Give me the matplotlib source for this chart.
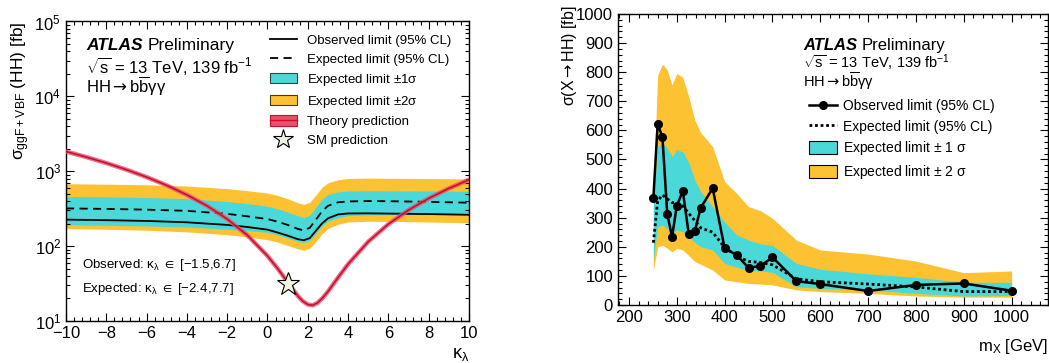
import matplotlib
matplotlib.use("Agg")
import matplotlib.pyplot as plt
import matplotlib.ticker as ticker
from matplotlib.lines import Line2D
from matplotlib.patches import Patch

plt.rcParams["font.family"] = ["Liberation Sans", "DejaVu Sans"]
plt.rcParams["mathtext.fontset"] = "custom"
plt.rcParams["mathtext.rm"] = "Liberation Sans"
plt.rcParams["mathtext.it"] = "Liberation Sans"
plt.rcParams["mathtext.bf"] = "Liberation Sans:bold"
plt.rcParams["mathtext.sf"] = "DejaVu Sans"
plt.rcParams["mathtext.default"] = "regular"

CYAN = "#4ad8d8"
YELLOW = "#fdc232"
RED_CORE = "#c8102e"
RED_BAND = "#e8506c"

# --- left panel: kappa_lambda scan (fb) ---
kl = [-10, -8, -6, -4, -2, -1, 0, 0.5, 1, 1.5, 1.8, 2.1, 2.4, 2.7, 3.0, 3.5, 4, 5, 6, 8, 10]
kl_obs = [226, 222, 217, 208, 192, 180, 166, 152, 138, 124, 120, 128, 160, 200, 235, 265, 273, 274, 272, 268, 262]
kl_exp = [319, 314, 307, 296, 270, 250, 230, 212, 192, 170, 162, 176, 225, 290, 345, 385, 395, 400, 398, 390, 380]
kl_1up = [461, 455, 446, 430, 395, 370, 340, 315, 285, 255, 240, 258, 330, 420, 490, 530, 545, 550, 548, 545, 540]
kl_1dn = [193, 190, 186, 180, 168, 161, 153, 142, 128, 116, 112, 120, 148, 185, 215, 240, 255, 262, 263, 264, 265]
kl_2up = [681, 672, 660, 635, 585, 550, 512, 475, 430, 380, 360, 385, 480, 610, 700, 770, 800, 810, 805, 800, 790]
kl_2dn = [171, 168, 163, 155, 142, 133, 122, 113, 102, 92, 88, 94, 115, 145, 172, 196, 210, 215, 214, 210, 205]

th_kl = [-10, -9, -8, -7, -6, -5, -4, -3, -2, -1, 0, 0.5, 1, 1.5, 1.75, 2, 2.25, 2.5, 2.75, 3, 3.5, 4, 5, 6, 7, 8, 9, 10]
th_xsec = [1836, 1549, 1287, 1049, 836, 648, 484, 345, 230, 140, 74, 50.4, 33, 21.7, 18.4, 16.6, 16.2, 17.6, 20.5,
           24.7, 38.0, 57.4, 114.8, 196.6, 303, 434, 590, 770]
sm_kl = [1]
sm_xsec = [31.0]

# --- right panel: resonant search (fb) ---
mx = [251, 260, 270, 280, 290, 300, 312.5, 325, 337.5, 350, 375, 400, 425, 450, 475, 500, 550, 600, 700, 800, 900, 1000]
mx_obs = [366, 623, 576, 314, 234, 340, 392, 244, 253, 334, 401, 195, 172, 128, 134, 164, 82, 72, 48, 69, 74, 49]
mx_exp = [214, 358, 378, 365, 352, 350, 340, 315, 290, 265, 250, 198, 168, 150, 146, 138, 90, 80, 72, 62, 46, 46]
mx_1up = [355, 544, 556, 540, 510, 533, 527, 490, 430, 390, 338, 285, 241, 223, 210, 205, 143, 123, 107, 95, 78, 78]
mx_1dn = [155, 269, 275, 263, 246, 258, 252, 235, 215, 200, 189, 143, 130, 120, 117, 112, 63, 57, 52, 40, 31, 33]
mx_2up = [410, 790, 828, 808, 756, 796, 782, 716, 636, 592, 544, 424, 384, 338, 324, 298, 223, 189, 175, 151, 111, 117]
mx_2dn = [120, 200, 205, 195, 183, 195, 189, 170, 150, 140, 120, 86, 80, 74, 72, 69, 52, 46, 40, 31, 27, 27]

fig = plt.figure(figsize=(10.49, 3.63), dpi=100)
ax1 = fig.add_axes([0.0629, 0.1157, 0.3842, 0.8251])
ax2 = fig.add_axes([0.5891, 0.1598, 0.4099, 0.8017])

HHBBYY = r"HH$\mathsf{\rightarrow}$b$\overline{b}\gamma\gamma$"


def root_style(ax):
    ax.tick_params(which="both", direction="in", top=True, right=True, labelsize=12, width=0.8)
    ax.tick_params(which="major", length=6)
    ax.tick_params(which="minor", length=3)
    for s in ax.spines.values():
        s.set_linewidth(1.0)


def atlas_label(ax, x, y, size):
    t = ax.text(x, y, "ATLAS", transform=ax.transAxes, fontsize=size, fontweight="bold",
                style="italic", va="baseline")
    ax.annotate("Preliminary", xy=(1, 0), xycoords=t, xytext=(3.5, 0), textcoords="offset points",
                fontsize=size, va="bottom")


# ---------------- left ----------------
ax1.fill_between(kl, kl_2dn, kl_2up, color=YELLOW, lw=0)
ax1.fill_between(kl, kl_1dn, kl_1up, color=CYAN, lw=0)
ax1.plot(kl, kl_exp, color="black", ls=(0, (4.5, 3)), lw=1.3)
ax1.plot(kl, kl_obs, color="black", lw=1.3)
ax1.plot(th_kl, th_xsec, color=RED_BAND, lw=3.2, alpha=0.8, zorder=4)
ax1.plot(th_kl, th_xsec, color=RED_CORE, lw=1.2, zorder=5)
ax1.plot(sm_kl, sm_xsec, ls="none", marker="*", ms=17, mfc="#eef3e3", mec="black", mew=0.8, zorder=6)

ax1.set_yscale("log")
ax1.set_xlim(-10, 10)
ax1.set_ylim(10, 1e5)
ax1.xaxis.set_major_locator(ticker.MultipleLocator(2))
ax1.xaxis.set_minor_locator(ticker.MultipleLocator(0.4))
ax1.yaxis.set_minor_locator(ticker.LogLocator(subs=range(2, 10), numticks=20))
ax1.yaxis.set_minor_formatter(ticker.NullFormatter())
ax1.xaxis.set_major_formatter(ticker.FuncFormatter(lambda v, p: f"{v:.0f}".replace("-", "\u2212")))
root_style(ax1)

ax1.set_ylabel(r"$\sigma_{ggF+VBF}$ (HH) [fb]", fontsize=12.5, loc="top")
ax1.yaxis.set_label_coords(-0.085, 1.0)
ax1.set_xlabel(r"$\kappa_{\lambda}$", fontsize=13, loc="right")
ax1.xaxis.set_label_coords(1.0, -0.085)

atlas_label(ax1, 0.05, 0.905, 12.5)
ax1.text(0.05, 0.828, r"$\sqrt{s}$ = 13 TeV, 139 fb$^{-1}$", transform=ax1.transAxes, fontsize=12, va="baseline")
ax1.text(0.05, 0.762, HHBBYY, transform=ax1.transAxes, fontsize=12, va="baseline")
ax1.text(0.039, 0.177, r"Observed: $\kappa_{\lambda}$ $\in$ [$-$1.5,6.7]", transform=ax1.transAxes, fontsize=9.5, va="baseline")
ax1.text(0.039, 0.097, r"Expected: $\kappa_{\lambda}$ $\in$ [$-$2.4,7.7]", transform=ax1.transAxes, fontsize=9.5, va="baseline")

h_left = [
    Line2D([], [], color="black", lw=1.3),
    Line2D([], [], color="black", ls=(0, (4.5, 3)), lw=1.3),
    Patch(facecolor=CYAN, edgecolor="#2a4a4a", lw=0.8),
    Patch(facecolor=YELLOW, edgecolor="#4a3a10", lw=0.8),
    (Patch(facecolor=RED_BAND, edgecolor=RED_CORE, lw=0.8), Line2D([], [], color=RED_CORE, lw=1.0)),
    Line2D([], [], ls="none", marker="*", ms=15, mfc="#eef3e3", mec="black", mew=0.8),
]
l_left = ["Observed limit (95% CL)", "Expected limit (95% CL)", r"Expected limit $\pm1\sigma$",
          r"Expected limit $\pm2\sigma$", "Theory prediction", "SM prediction"]
ax1.legend(h_left, l_left, loc="upper left", bbox_to_anchor=(0.505, 0.958), frameon=False, fontsize=9.5,
           borderpad=0, borderaxespad=0, handlelength=2.1, handleheight=0.85, handletextpad=0.75,
           labelspacing=0.45)

# ---------------- right ----------------
ax2.fill_between(mx, mx_2dn, mx_2up, color=YELLOW, lw=0)
ax2.fill_between(mx, mx_1dn, mx_1up, color=CYAN, lw=0)
ax2.plot(mx, mx_exp, color="black", ls=(0, (1, 1)), lw=2.0)
ax2.plot(mx, mx_obs, color="black", lw=1.8, marker="o", ms=5.5)

ax2.set_xlim(177, 1076)
ax2.set_ylim(0, 1000)
ax2.xaxis.set_major_locator(ticker.MultipleLocator(100))
ax2.xaxis.set_minor_locator(ticker.MultipleLocator(20))
ax2.yaxis.set_major_locator(ticker.MultipleLocator(100))
ax2.yaxis.set_minor_locator(ticker.MultipleLocator(20))
root_style(ax2)

ax2.set_ylabel(r"$\sigma$(X$\mathsf{\rightarrow}$HH) [fb]", fontsize=11.5, loc="top")
ax2.yaxis.set_label_coords(-0.09, 1.03)
ax2.set_xlabel(r"m$_{X}$ [GeV]", fontsize=12, loc="right")
ax2.xaxis.set_label_coords(1.0, -0.11)

atlas_label(ax2, 0.43, 0.876, 12)
ax2.text(0.43, 0.814, r"$\sqrt{s}$ = 13 TeV, 139 fb$^{-1}$", transform=ax2.transAxes, fontsize=10.5, va="baseline")
ax2.text(0.43, 0.748, HHBBYY, transform=ax2.transAxes, fontsize=10.5, va="baseline")

h_right = [
    Line2D([], [], color="black", lw=1.8, marker="o", ms=5.5),
    Line2D([], [], color="black", ls=(0, (1, 1)), lw=2.0),
    Patch(facecolor=CYAN, edgecolor="black", lw=0.8),
    Patch(facecolor=YELLOW, edgecolor="black", lw=0.8),
]
l_right = ["Observed limit (95% CL)", "Expected limit (95% CL)", r"Expected limit $\pm$ 1 $\sigma$",
           r"Expected limit $\pm$ 2 $\sigma$"]
ax2.legend(h_right, l_right, loc="upper left", bbox_to_anchor=(0.444, 0.708), frameon=False, fontsize=10,
           borderpad=0, borderaxespad=0, handlelength=2.0, handleheight=1.1, handletextpad=0.45,
           labelspacing=0.42)

fig.savefig("out.png", dpi=100)
